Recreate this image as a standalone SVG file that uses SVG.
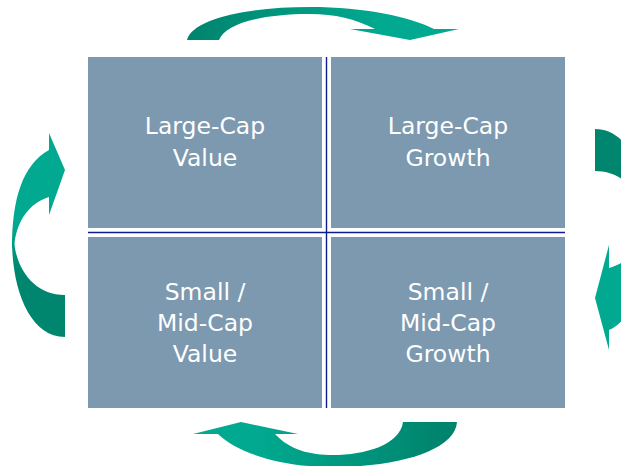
<svg xmlns="http://www.w3.org/2000/svg" width="621" height="466" viewBox="0 0 621 466">
<style>
.box{fill:#7C99AF}
.t{font-family:"DejaVu Sans","Liberation Sans",sans-serif;font-size:23.5px;fill:#ffffff;text-anchor:middle}
.div{stroke:#0D1F8A;stroke-width:1.4}
</style>
<defs>
<linearGradient id="gTop" gradientUnits="userSpaceOnUse" x1="190" y1="0" x2="380" y2="0">
<stop offset="0" stop-color="#00846E"/><stop offset="1" stop-color="#00A98F"/>
</linearGradient>
<linearGradient id="gBot" gradientUnits="userSpaceOnUse" x1="440" y1="0" x2="260" y2="0">
<stop offset="0" stop-color="#00846E"/><stop offset="1" stop-color="#00A98F"/>
</linearGradient>
<linearGradient id="gSide" gradientUnits="userSpaceOnUse" x1="0" y1="225" x2="0" y2="270">
<stop offset="0" stop-color="#00A98F"/><stop offset="1" stop-color="#00866F"/>
</linearGradient>
<linearGradient id="gSideR" gradientUnits="userSpaceOnUse" x1="0" y1="241" x2="0" y2="196">
<stop offset="0" stop-color="#00A98F"/><stop offset="1" stop-color="#00866F"/>
</linearGradient>
</defs>
<g id="arrows">
<path id="arrow-top" fill="url(#gTop)" d="M187,40 C193,18 250,7 310,7 C365,7 410,17 434,29 L459,29 L410,40 L350,29 L375,29 C355,19 335,14 310,14 C260,14 225,24 219,40 Z"/>
<path id="arrow-bottom" fill="url(#gBot)" d="M193,434 L241,422 L298,434 L275,434 C290,450 310,455 333,455 C365,455 400,445 403,422 L457,422 C455,450 400,467 333,467 C285,467 240,455 218,434 Z"/>
<g id="arrow-left" fill="url(#gSide)">
<path d="M12,240 C12,290 30,337 65,337 L65,295 C35,295 16,270 14,240 Z"/>
<path d="M12,248 C12,200 22,165 49,150 L49,133 L65,170 L49,215 L49,197 C30,203 16,220 14,248 Z"/>
</g>
<g id="arrow-right" fill="url(#gSideR)">
<path d="M648,226 C648,176 630,129 595,129 L595,171 C625,171 644,196 646,226 Z"/>
<path d="M648,218 C648,270 636,318 609,330 L609,350 L595,298 L609,245 L609,268 C630,262 644,246 646,218 Z"/>
</g>
</g>
<g id="node-large-value">
<rect class="box" x="88" y="57" width="234" height="171"/>
<text class="t" x="205" y="134">Large-Cap</text>
<text class="t" x="205" y="166">Value</text>
</g>
<g id="node-large-growth">
<rect class="box" x="331" y="57" width="234" height="171"/>
<text class="t" x="448" y="134">Large-Cap</text>
<text class="t" x="448" y="166">Growth</text>
</g>
<g id="node-small-value">
<rect class="box" x="88" y="237" width="234" height="171"/>
<text class="t" x="205" y="300">Small /</text>
<text class="t" x="205" y="331">Mid-Cap</text>
<text class="t" x="205" y="362">Value</text>
</g>
<g id="node-small-growth">
<rect class="box" x="331" y="237" width="234" height="171"/>
<text class="t" x="448" y="300">Small /</text>
<text class="t" x="448" y="331">Mid-Cap</text>
<text class="t" x="448" y="362">Growth</text>
</g>
<g id="dividers">
<line class="div" x1="326.5" y1="57" x2="326.5" y2="408"/>
<line class="div" x1="88" y1="232.5" x2="565" y2="232.5"/>
</g>
</svg>
